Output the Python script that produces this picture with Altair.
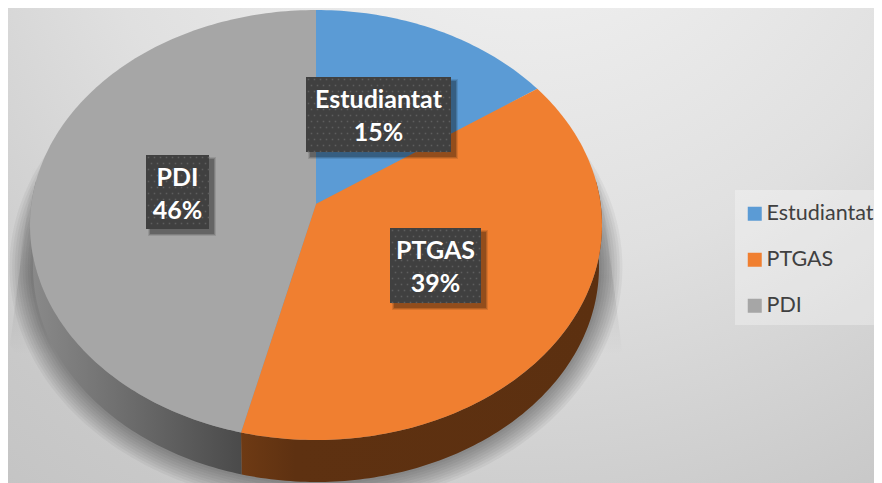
import math
import altair as alt
import pandas as pd

categories = ["Estudiantat", "PTGAS", "PDI"]
shares = [15, 39, 46]
colors = ["#5B9BD5", "#F07F30", "#A6A6A6"]
# slice edges on the tilted disc (degrees clockwise from top)
edge_angles = [0.0, 50.7, 195.2, 360.0]
box_x = [306, 390, 146]
box_x2 = [451, 481, 209]
box_y = [77, 228, 155]
box_y2 = [152, 303, 229]

CX, CY, RX, RY = 316, 225, 286, 215
AX, AY = 316, 204
DEPTH = 42
W, H = 866, 475
xs = alt.Scale(domain=[8, 874], range=[0, W])
ys = alt.Scale(domain=[8, 483], range=[0, H])


def rim(a, cy=CY, rx=RX, ry=RY):
    t = math.radians(a)
    return (CX + rx * math.sin(t), cy - ry * math.cos(t))


def arc(a0, a1, **kw):
    n = max(2, int(abs(a1 - a0)) + 1)
    return [rim(a0 + (a1 - a0) * i / (n - 1), **kw) for i in range(n)]


def poly(points, fill, **extra):
    df = pd.DataFrame(points, columns=["x", "y"])
    df["i"] = range(len(df))
    return alt.Chart(df).mark_line(fill=fill, strokeWidth=0, clip=True, **extra).encode(
        x=alt.X("x:Q", scale=xs, axis=None),
        y=alt.Y("y:Q", scale=ys, axis=None),
        order=alt.Order("i:Q"),
    )


def rect(x, x2, y, y2, fill, **extra):
    df = pd.DataFrame({"x": [x], "x2": [x2], "y": [y], "y2": [y2]})
    return alt.Chart(df).mark_rect(fill=fill, clip=True, **extra).encode(
        x=alt.X("x:Q", scale=xs, axis=None), x2="x2:Q",
        y=alt.Y("y:Q", scale=ys, axis=None), y2="y2:Q",
    )


def stops(*pairs):
    return [alt.GradientStop(color=c, offset=o) for o, c in pairs]


layers = []
# page background
layers.append(rect(8, 874, 8, 483, alt.RadialGradient(
    gradient="radial", x1=0.6, y1=0, r1=0, x2=0.6, y2=0, r2=1.15,
    stops=stops((0, "#f6f6f6"), (0.45, "#e0e0e0"), (0.75, "#c9c9c9"), (1, "#bebebe")))))

# legend panel
layers.append(rect(735, 874, 190, 325, "rgba(255,255,255,0.3)"))

# flared shade behind the disc
layers.append(poly([(33, 165), (598, 165), (622, 350), (560, 445), (70, 445), (10, 345)],
                   alt.LinearGradient(gradient="linear", x1=0, y1=0, x2=0, y2=1,
                                      stops=stops((0, "rgba(0,0,0,0)"), (0.4, "rgba(0,0,0,0.09)"), (0.68, "rgba(0,0,0,0)")))))
# soft shadow
for k in range(9, 0, -1):
    layers.append(poly(arc(0, 360, cy=CY + DEPTH, rx=RX - 3 + k * 2.6, ry=RY + k * 2.6), "rgba(0,0,0,0.045)"))

# legend swatches come from this layer, hidden under the disc
leg_df = pd.DataFrame({"c": categories, "x": [CX] * 3, "y": [CY] * 3})
layers.append(alt.Chart(leg_df).mark_square(size=100, opacity=1).encode(
    x=alt.X("x:Q", scale=xs, axis=None),
    y=alt.Y("y:Q", scale=ys, axis=None),
    fill=alt.Fill("c:N", sort=categories,
                  scale=alt.Scale(domain=categories, range=colors),
                  legend=alt.Legend(orient="none", legendX=736, legendY=195, title=None,
                                    symbolType="square", symbolSize=196, symbolStrokeWidth=0,
                                    labelFont="Lato", labelFontSize=21.5, labelColor="#404040",
                                    labelOffset=1, rowPadding=23, padding=0)),
))

# rim of the disc
split = edge_angles[2]
layers.append(poly(arc(split, 282, cy=CY + DEPTH, rx=RX - 3, ry=RY) + arc(282, split), alt.LinearGradient(
    gradient="linear", x1=0, y1=0, x2=1, y2=0, stops=stops((0, "#8a8a8a"), (1, "#4a4a4a")))))
layers.append(poly(arc(78, split, cy=CY + DEPTH, rx=RX - 3, ry=RY) + arc(split, 78), alt.LinearGradient(
    gradient="linear", x1=1, y1=0, x2=0, y2=0, stops=stops((0, "#5c3010"), (0.85, "#5e3111"), (1, "#6e3a14")))))

# top surface
for i, col in enumerate(colors):
    layers.append(poly([(AX, AY)] + arc(edge_angles[i], edge_angles[i + 1]), col))

# data-label boxes
for i, c in enumerate(categories):
    for k, op in ((3, 0.10), (2, 0.15), (1, 0.2)):
        layers.append(rect(box_x[i] + 5 - k, box_x2[i] + 4 + k, box_y[i] + 5 - k, box_y2[i] + 4 + k, "#000000", opacity=op))
    layers.append(rect(box_x[i], box_x2[i], box_y[i], box_y2[i], "#404040"))
    dots = []
    for r, yy in enumerate(range(box_y[i] + 2, box_y2[i], 6)):
        for xx in range(box_x[i] + 2 + (r % 2) * 3, box_x2[i], 6):
            dots.append((xx + 0.5, yy + 0.5))
    ddf = pd.DataFrame(dots, columns=["x", "y"])
    layers.append(alt.Chart(ddf).mark_square(size=2.5, color="#5e5e5e", opacity=1).encode(
        x=alt.X("x:Q", scale=xs, axis=None), y=alt.Y("y:Q", scale=ys, axis=None)))

# label text
rows = []
for i, c in enumerate(categories):
    mid = (box_x[i] + box_x2[i]) / 2
    top = box_y[i] + 23
    rows.append({"x": mid, "y": top, "t": c})
    rows.append({"x": mid, "y": top + 33, "t": f"{shares[i]}%"})
layers.append(alt.Chart(pd.DataFrame(rows)).mark_text(
    font="Lato", fontWeight="bold", fontSize=25, color="#ffffff", align="center", baseline="middle"
).encode(x=alt.X("x:Q", scale=xs, axis=None), y=alt.Y("y:Q", scale=ys, axis=None), text="t:N"))

chart = alt.layer(*layers).properties(
    width=W, height=H, padding=0, autosize=alt.AutoSizeParams(type="none"),
    background="white",
).configure_view(stroke=None)

chart.save("out.html", embed_options={"renderer": "svg", "actions": False})
